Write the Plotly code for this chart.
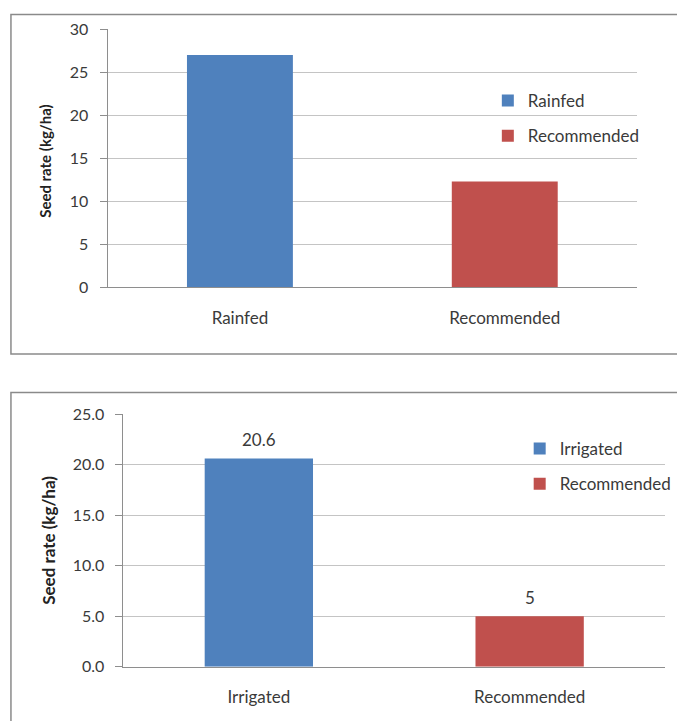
import plotly.graph_objects as go

W, H = 677, 721

# Seed rate survey data (kg/ha)
top_categories = ["Rainfed", "Recommended"]
top_values = [27, 12.3]

bottom_categories = ["Irrigated", "Recommended"]
bottom_values = [20.6, 5]

top_ticks = [0, 5, 10, 15, 20, 25, 30]
bottom_ticks = [0, 5, 10, 15, 20, 25]

BLUE = "#4F81BD"
RED = "#C0504D"
colors = [BLUE, RED]

FONT = "Lato, Carlito, Calibri, sans-serif"
TEXT = "#3a3a3a"
GRID = "#c4c4c4"
AXIS = "#8e8e8e"


def px_x(v):
    return v / W


def px_y(v):
    return (H - v) / H


fig = go.Figure()

for cat, val, col in zip(top_categories, top_values, colors):
    fig.add_trace(go.Bar(
        x=[cat], y=[val], name=cat, marker=dict(color=col, line=dict(width=0)),
        xaxis="x", yaxis="y", legend="legend", legendgroup="t" + cat,
    ))

for cat, val, col in zip(bottom_categories, bottom_values, colors):
    fig.add_trace(go.Bar(
        x=[cat], y=[val], name=cat, marker=dict(color=col, line=dict(width=0)),
        xaxis="x2", yaxis="y2", legend="legend2", legendgroup="b" + cat,
    ))

# value labels above the lower chart's bars
for cat, val in zip(bottom_categories, bottom_values):
    fig.add_annotation(
        x=cat, y=val, xref="x2", yref="y2", text=f"{val:g}", showarrow=False,
        yanchor="bottom", yshift=6, font=dict(family=FONT, size=17, color=TEXT),
    )

common_x = dict(
    showgrid=False, showline=True, linecolor=AXIS, linewidth=1,
    ticks="", tickfont=dict(family=FONT, size=17, color=TEXT),
    ticklabelstandoff=15, fixedrange=True,
)
common_y = dict(
    showgrid=True, gridcolor=GRID, gridwidth=1, showline=True, linecolor=AXIS,
    linewidth=1, ticks="outside", ticklen=7, tickcolor=AXIS,
    tickfont=dict(family=FONT, size=16, color=TEXT), zeroline=False,
    ticklabelstandoff=8, automargin=False, fixedrange=True,
)

fig.update_layout(
    width=W, height=H,
    margin=dict(l=0, r=0, t=0, b=0),
    paper_bgcolor="white", plot_bgcolor="white",
    barmode="overlay", bargap=0.6,
    showlegend=True,
    xaxis=dict(domain=[px_x(108), px_x(640)], anchor="y", **common_x),
    yaxis=dict(domain=[px_y(287.3), px_y(29.3)], anchor="x", range=[0, 30],
               tickvals=top_ticks, **common_y),
    xaxis2=dict(domain=[px_x(124), px_x(668)], anchor="y2", **common_x),
    yaxis2=dict(domain=[px_y(666.7), px_y(414)], anchor="x2", range=[0, 25],
                tickvals=bottom_ticks, tickformat=".1f", **common_y),
    legend=dict(
        x=px_x(490), y=px_y(83), xanchor="left", yanchor="top",
        font=dict(family=FONT, size=17, color=TEXT), bgcolor="rgba(0,0,0,0)",
        tracegroupgap=10,
    ),
    legend2=dict(
        x=px_x(522), y=px_y(431), xanchor="left", yanchor="top",
        font=dict(family=FONT, size=17, color=TEXT), bgcolor="rgba(0,0,0,0)",
        tracegroupgap=10,
    ),
)

# y-axis titles
fig.add_annotation(
    x=px_x(45), y=px_y(161), xref="paper", yref="paper", text="<b>Seed rate (kg/ha)</b>",
    textangle=-90, showarrow=False, xanchor="center", yanchor="middle",
    font=dict(family=FONT, size=15, color="#222"),
)
fig.add_annotation(
    x=px_x(48), y=px_y(540), xref="paper", yref="paper", text="<b>Seed rate (kg/ha)</b>",
    textangle=-90, showarrow=False, xanchor="center", yanchor="middle",
    font=dict(family=FONT, size=17, color="#222"),
)

# chart frames
fig.add_shape(type="rect", xref="paper", yref="paper",
              x0=px_x(11), x1=px_x(700), y0=px_y(354), y1=px_y(14.5),
              line=dict(color="#8a8a8a", width=1.5), fillcolor="rgba(0,0,0,0)", layer="below")
fig.add_shape(type="rect", xref="paper", yref="paper",
              x0=px_x(11), x1=px_x(700), y0=px_y(740), y1=px_y(392.5),
              line=dict(color="#8a8a8a", width=1.5), fillcolor="rgba(0,0,0,0)", layer="below")

fig.write_html("out.html")
